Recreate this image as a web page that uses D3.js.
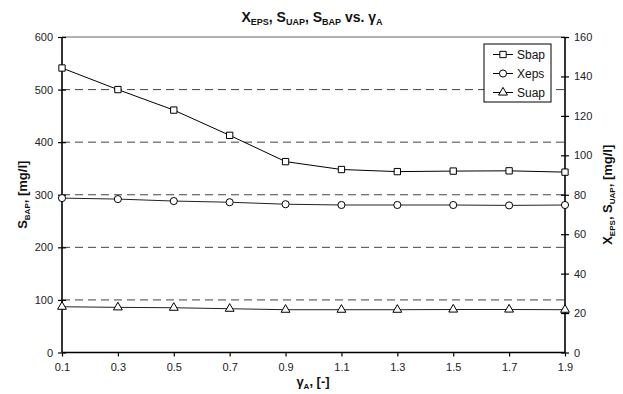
<!DOCTYPE html>
<html><head><meta charset="utf-8">
<script src="https://cdn.jsdelivr.net/npm/d3@7/dist/d3.min.js"></script>
<style>body{margin:0;background:#fff;} text{font-family:"Liberation Sans",Arial,sans-serif;}</style>
</head><body>
<svg id="c" width="623" height="394"></svg>
<script>
const gammaA = [0.1,0.3,0.5,0.7,0.9,1.1,1.3,1.5,1.7,1.9];
const sbap = [541,500,461,413,363,348,344,345,345.5,343];
const xeps = [78.3,77.8,76.8,76.2,75.2,74.8,74.8,74.8,74.6,74.8];
const suap = [23.2,22.9,22.7,22.2,21.7,21.7,21.7,21.8,21.8,21.7];
const xTicks = [0.1,0.3,0.5,0.7,0.9,1.1,1.3,1.5,1.7,1.9];
const leftTicks = [0,100,200,300,400,500,600];
const rightTicks = [0,20,40,60,80,100,120,140,160];

const svg = d3.select("#c");
const L=62, R=565, T=37, B=352.5;
const x = d3.scaleLinear().domain([0.1,1.9]).range([L,R]);
const yL = d3.scaleLinear().domain([0,600]).range([B,T]);
const yR = d3.scaleLinear().domain([0,160]).range([B,T]);

// gridlines
svg.append("g").selectAll("line").data(leftTicks.filter(d=>d>0&&d<600)).join("line")
  .attr("x1",L).attr("x2",R).attr("y1",d=>yL(d)).attr("y2",d=>yL(d))
  .attr("stroke","#444").attr("stroke-width",1).attr("stroke-dasharray","8,5");
svg.append("line").attr("x1",L).attr("x2",R).attr("y1",T).attr("y2",T).attr("stroke","#666").attr("stroke-width",1);

// axes
const fs = "11px";
const gl = svg.append("g").attr("transform",`translate(${L},0)`)
  .call(d3.axisLeft(yL).tickValues(leftTicks).tickSize(4).tickPadding(5));
const gr = svg.append("g").attr("transform",`translate(${R},0)`)
  .call(d3.axisRight(yR).tickValues(rightTicks).tickSize(4).tickPadding(5));
const gx = svg.append("g").attr("transform",`translate(0,${B})`)
  .call(d3.axisBottom(x).tickValues(xTicks).tickFormat(d3.format(".1f")).tickSize(4).tickPadding(7));
[gl,gr,gx].forEach(g=>{
  g.select(".domain").attr("stroke","#000").attr("stroke-width",1.6);
  g.selectAll(".tick line").attr("stroke","#000").attr("stroke-width",1.2);
  g.selectAll(".tick text").attr("font-size",fs).attr("fill","#222").attr("font-family","Liberation Sans, Arial, sans-serif");
});
gl.selectAll(".tick").append("line").attr("x2",4).attr("stroke","#000").attr("stroke-width",1.2);
gr.selectAll(".tick").append("line").attr("x2",-4).attr("stroke","#000").attr("stroke-width",1.2);
gx.select(".domain").attr("d",`M${L},0H${R}`);
gl.select(".domain").attr("d",`M0,${B}V${T}`);
gr.select(".domain").attr("d",`M0,${B}V${T}`);

// lines
const line = (ys,sc)=>d3.line().x((d,i)=>x(gammaA[i])).y(d=>sc(d))(ys);
svg.append("path").attr("d",line(sbap,yL)).attr("fill","none").attr("stroke","#000").attr("stroke-width",1);
svg.append("path").attr("d",line(xeps,yR)).attr("fill","none").attr("stroke","#222").attr("stroke-width",1);
svg.append("path").attr("d",line(suap,yR)).attr("fill","none").attr("stroke","#222").attr("stroke-width",1);

const sq = d3.symbol().type(d3.symbolSquare).size(40);
const ci = d3.symbol().type(d3.symbolCircle).size(40);
const tr = d3.symbol().type(d3.symbolTriangle).size(34);
function markers(ys,sc,sym){
  svg.append("g").selectAll("path").data(ys).join("path")
    .attr("d",sym).attr("transform",(d,i)=>`translate(${x(gammaA[i])},${sc(d)})`)
    .attr("fill","#fff").attr("stroke","#000").attr("stroke-width",1);
}
markers(sbap,yL,sq); markers(xeps,yR,ci); markers(suap,yR,tr);

// legend
const lg = svg.append("g");
lg.append("rect").attr("x",484).attr("y",44).attr("width",67).attr("height",58)
  .attr("fill","#fff").attr("stroke","#000").attr("stroke-width",1);
const legItems = [["Sbap",sq],["Xeps",ci],["Suap",tr]];
legItems.forEach(([name,sym],i)=>{
  const yy = 54.5 + i*19;
  lg.append("line").attr("x1",493).attr("x2",513).attr("y1",yy).attr("y2",yy).attr("stroke","#000");
  lg.append("path").attr("d",sym).attr("transform",`translate(503,${yy})`).attr("fill","#fff").attr("stroke","#000");
  lg.append("text").attr("x",517).attr("y",yy+4.5).attr("font-size","12px").attr("fill","#111").text(name);
});

function sub(t,main,s,tail,ss){
  t.append("tspan").text(main);
  t.append("tspan").attr("font-size",ss||"8px").attr("dy",3).text(s);
  t.append("tspan").attr("dy",-3).text(tail);
}
// title
const title = svg.append("text").attr("x",312).attr("y",22).attr("text-anchor","middle")
  .attr("font-size","14px").attr("font-weight","bold").attr("fill","#111");
sub(title,"X","EPS",", ","9px");
sub(title,"S","UAP",", ","9px");
sub(title,"S","BAP"," vs. ","9px");
sub(title,"γ","A","","9px");

// x label
const xl = svg.append("text").attr("x",313).attr("y",386).attr("text-anchor","middle")
  .attr("font-size","13px").attr("font-weight","bold").attr("fill","#111");
sub(xl,"γ","A",", [-]");

// left label
const yl = svg.append("text").attr("transform",`translate(27,${(T+B)/2}) rotate(-90)`).attr("text-anchor","middle")
  .attr("font-size","13px").attr("font-weight","bold").attr("fill","#111");
sub(yl,"S","BAP",", [mg/l]");

// right label
const yr = svg.append("text").attr("transform",`translate(612,${(T+B)/2}) rotate(-90)`).attr("text-anchor","middle")
  .attr("font-size","13px").attr("font-weight","bold").attr("fill","#111");
sub(yr,"X","EPS",", ");
sub(yr,"S","UAP",", [mg/l]");
</script>
</body></html>
